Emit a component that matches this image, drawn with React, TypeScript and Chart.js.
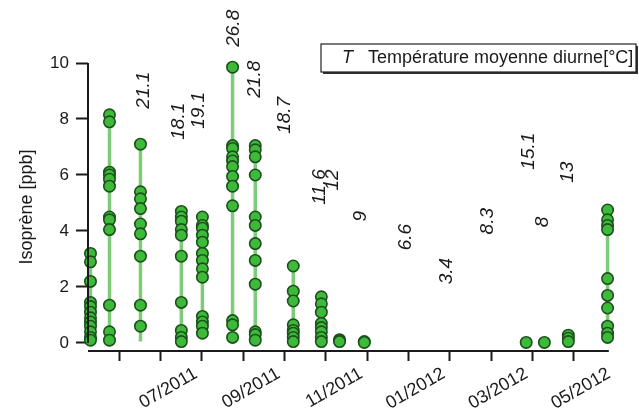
import React, { useEffect, useRef } from "react";
import { Chart, registerables } from "chart.js";

Chart.register(...registerables);

// Month index: 1 = 01/2011, 13 = 01/2012
const columnMonths = [4.3, 4.76, 5.51, 6.5, 7.01, 7.74, 8.29, 9.21, 9.89, 10.33, 10.93, 14.85, 15.29, 15.87, 16.82];

const col01 = [3.2, 2.9, 2.2, 1.45, 1.3, 1.1, 0.9, 0.75, 0.6, 0.4, 0.2, 0.1];
const col02 = [8.15, 7.9, 6.1, 6.0, 5.85, 5.6, 4.5, 4.4, 4.05, 1.35, 0.4, 0.1];
const col03 = [7.1, 5.4, 5.15, 4.8, 4.25, 3.9, 3.1, 1.35, 0.6];
const col04 = [4.7, 4.5, 4.35, 4.05, 3.85, 3.1, 1.45, 0.45, 0.2, 0.05];
const col05 = [4.5, 4.2, 4.1, 3.85, 3.6, 3.2, 2.95, 2.65, 2.35, 0.95, 0.75, 0.6, 0.35];
const col06 = [9.85, 7.05, 6.95, 6.65, 6.5, 6.3, 5.95, 5.6, 4.9, 0.8, 0.65, 0.2];
const col07 = [7.05, 6.9, 6.65, 6.0, 4.5, 4.2, 3.55, 2.95, 2.1, 0.4, 0.3, 0.1];
const col08 = [2.75, 1.85, 1.5, 0.65, 0.45, 0.35, 0.2, 0.05];
const col09 = [1.65, 1.4, 1.1, 0.7, 0.55, 0.4, 0.2, 0.05];
const col10 = [0.12, 0.08, 0.05];
const col11 = [0.05, 0.02];
const col12 = [0.02];
const col13 = [0.02];
const col14 = [0.28, 0.17, 0.05];
const col15 = [4.75, 4.4, 4.2, 4.05, 2.3, 1.7, 1.25, 0.6, 0.35, 0.2];

const isopreneColumns = [col01, col02, col03, col04, col05, col06, col07, col08, col09, col10, col11, col12, col13, col14, col15];

const lineLow = [0.1, 0.1, 0.05, 0.05, 0.3, 0.2, 0.1, 0.05, 0.05, 0.05, 0.02, 0.02, 0.02, 0.05, 0.2];
const lineHigh = [3.2, 8.15, 7.1, 4.7, 4.5, 9.85, 7.05, 2.75, 1.65, 0.12, 0.05, 0.02, 0.02, 0.28, 4.75];

const tempLabels = ["21.1", "18.1", "19.1", "26.8", "21.8", "18.7", "11.6", "12", "9", "6.6", "3.4", "8.3", "15.1", "8", "13"];
const tempX = [5.58, 6.43, 6.91, 7.78, 8.27, 9.0, 9.84, 10.16, 10.84, 11.93, 12.92, 13.93, 14.9, 15.24, 15.85];
const tempY = [9.03, 7.92, 8.31, 11.24, 9.42, 8.13, 5.57, 5.82, 4.53, 3.78, 2.57, 4.35, 6.85, 4.32, 6.1];

const xTickMonths = [5, 6, 7, 8, 9, 10, 11, 12, 13, 14, 15, 16, 17];
const labeledMonths = [7, 9, 11, 13, 15, 17];
const monthLabelTexts = ["07/2011", "09/2011", "11/2011", "01/2012", "03/2012", "05/2012"];
const yTicks = [0, 2, 4, 6, 8, 10];

const X_MIN = 4.24;
const X_MAX = 17;
const X_AXIS_END = 16.85;
const Y_MIN = -0.286;
const Y_MAX = 10;

const FONT = "'Liberation Sans', Arial, Helvetica, sans-serif";
const INK = "#1a1a1a";

export default function App() {
  const canvasRef = useRef<HTMLCanvasElement | null>(null);

  useEffect(() => {
    const canvas = canvasRef.current;
    if (!canvas) return;

    const points: { x: number; y: number }[] = [];
    isopreneColumns.forEach((vals, i) => {
      vals.forEach((v) => points.push({ x: columnMonths[i], y: v }));
    });

    const rangeLines: { x: number; y: number | null }[] = [];
    columnMonths.forEach((m, i) => {
      rangeLines.push({ x: m, y: lineLow[i] });
      rangeLines.push({ x: m, y: lineHigh[i] });
      rangeLines.push({ x: m, y: null });
    });

    const decorPlugin = {
      id: "decor",
      afterDraw(chart: any) {
        const { ctx, scales } = chart;
        const xs = scales.x;
        const ys = scales.y;
        ctx.save();
        // axis lines
        ctx.strokeStyle = INK;
        ctx.lineWidth = 2;
        ctx.beginPath();
        const yAxisX = xs.getPixelForValue(X_MIN);
        ctx.moveTo(yAxisX, ys.getPixelForValue(10));
        ctx.lineTo(yAxisX, ys.getPixelForValue(0));
        ctx.stroke();
        ctx.beginPath();
        const xAxisY = ys.getPixelForValue(Y_MIN);
        ctx.moveTo(xs.getPixelForValue(X_MIN), xAxisY);
        ctx.lineTo(xs.getPixelForValue(X_AXIS_END), xAxisY);
        ctx.stroke();

        // temperature labels
        ctx.fillStyle = INK;
        ctx.font = `italic 19px ${FONT}`;
        ctx.textAlign = "center";
        ctx.textBaseline = "middle";
        tempLabels.forEach((t, i) => {
          const px = xs.getPixelForValue(tempX[i]);
          const py = ys.getPixelForValue(tempY[i]);
          ctx.save();
          ctx.translate(px, py);
          ctx.rotate(-Math.PI / 2);
          ctx.fillText(t, 0, 0);
          ctx.restore();
        });

        // legend box
        ctx.fillStyle = "#333";
        ctx.fillRect(323, 46, 315, 28);
        ctx.fillStyle = "#fff";
        ctx.fillRect(321, 44, 315, 28);
        ctx.strokeStyle = "#222";
        ctx.lineWidth = 1.2;
        ctx.strokeRect(321, 44, 315, 28);
        ctx.fillStyle = INK;
        ctx.textAlign = "left";
        ctx.textBaseline = "alphabetic";
        ctx.font = `italic 18px ${FONT}`;
        ctx.fillText("T", 342, 63);
        ctx.font = `18px ${FONT}`;
        ctx.fillText("Température moyenne diurne[°C]", 368, 63);
        ctx.restore();
      },
    };

    const chart = new Chart(canvas, {
      type: "scatter",
      data: {
        datasets: [
          {
            type: "scatter",
            data: points,
            order: 0,
            pointRadius: 5.7,
            pointBorderWidth: 1.6,
            pointBackgroundColor: "#3dba3a",
            pointBorderColor: "#1d4f1d",
            clip: false,
          } as any,
          {
            type: "line",
            data: rangeLines,
            order: 1,
            borderColor: "#7fcc78",
            borderWidth: 3.5,
            pointRadius: 0,
            spanGaps: false,
            showLine: true,
            clip: false,
          } as any,
        ],
      },
      options: {
        responsive: false,
        animation: false,
        events: [],
        layout: { padding: { left: 0, top: 63, right: 24, bottom: 0 } },
        plugins: {
          legend: { display: false },
          tooltip: { enabled: false },
        },
        scales: {
          x: {
            type: "linear",
            min: X_MIN,
            max: X_MAX,
            border: { display: false },
            grid: {
              drawOnChartArea: false,
              drawTicks: true,
              tickLength: 10,
              tickWidth: 2,
              tickColor: (c: any) => (c.tick && c.tick.value === 17 ? "rgba(0,0,0,0)" : INK),
            },
            afterBuildTicks: (scale: any) => {
              scale.ticks = xTickMonths.map((v) => ({ value: v }));
            },
            afterFit: (scale: any) => {
              scale.height = 60;
            },
            ticks: {
              autoSkip: false,
              maxRotation: 30,
              minRotation: 30,
              padding: 2,
              labelOffset: -6,
              color: INK,
              font: { family: FONT, size: 18 },
              callback: (v: any) => {
                const idx = labeledMonths.indexOf(Number(v));
                return idx >= 0 ? monthLabelTexts[idx] : "";
              },
            },
          },
          y: {
            type: "linear",
            min: Y_MIN,
            max: Y_MAX,
            border: { display: false },
            grid: {
              drawOnChartArea: false,
              drawTicks: true,
              tickLength: 12,
              tickWidth: 2,
              tickColor: INK,
            },
            afterBuildTicks: (scale: any) => {
              scale.ticks = yTicks.map((v) => ({ value: v }));
            },
            afterFit: (scale: any) => {
              scale.width = 88;
            },
            ticks: {
              padding: 7,
              color: INK,
              font: { family: FONT, size: 17 },
              callback: (v: any) => String(v),
            },
            title: {
              display: true,
              text: "Isoprène [ppb]",
              color: INK,
              font: { family: FONT, size: 18 },
              padding: { top: 16, bottom: 0 },
            },
          },
        },
      },
      plugins: [decorPlugin],
    });

    return () => chart.destroy();
  }, []);

  return (
    <div style={{ position: "fixed", left: 0, top: 0, width: 639, height: 411, background: "#fff" }}>
      <canvas ref={canvasRef} width={639} height={411} style={{ display: "block", width: 639, height: 411 }} />
    </div>
  );
}
